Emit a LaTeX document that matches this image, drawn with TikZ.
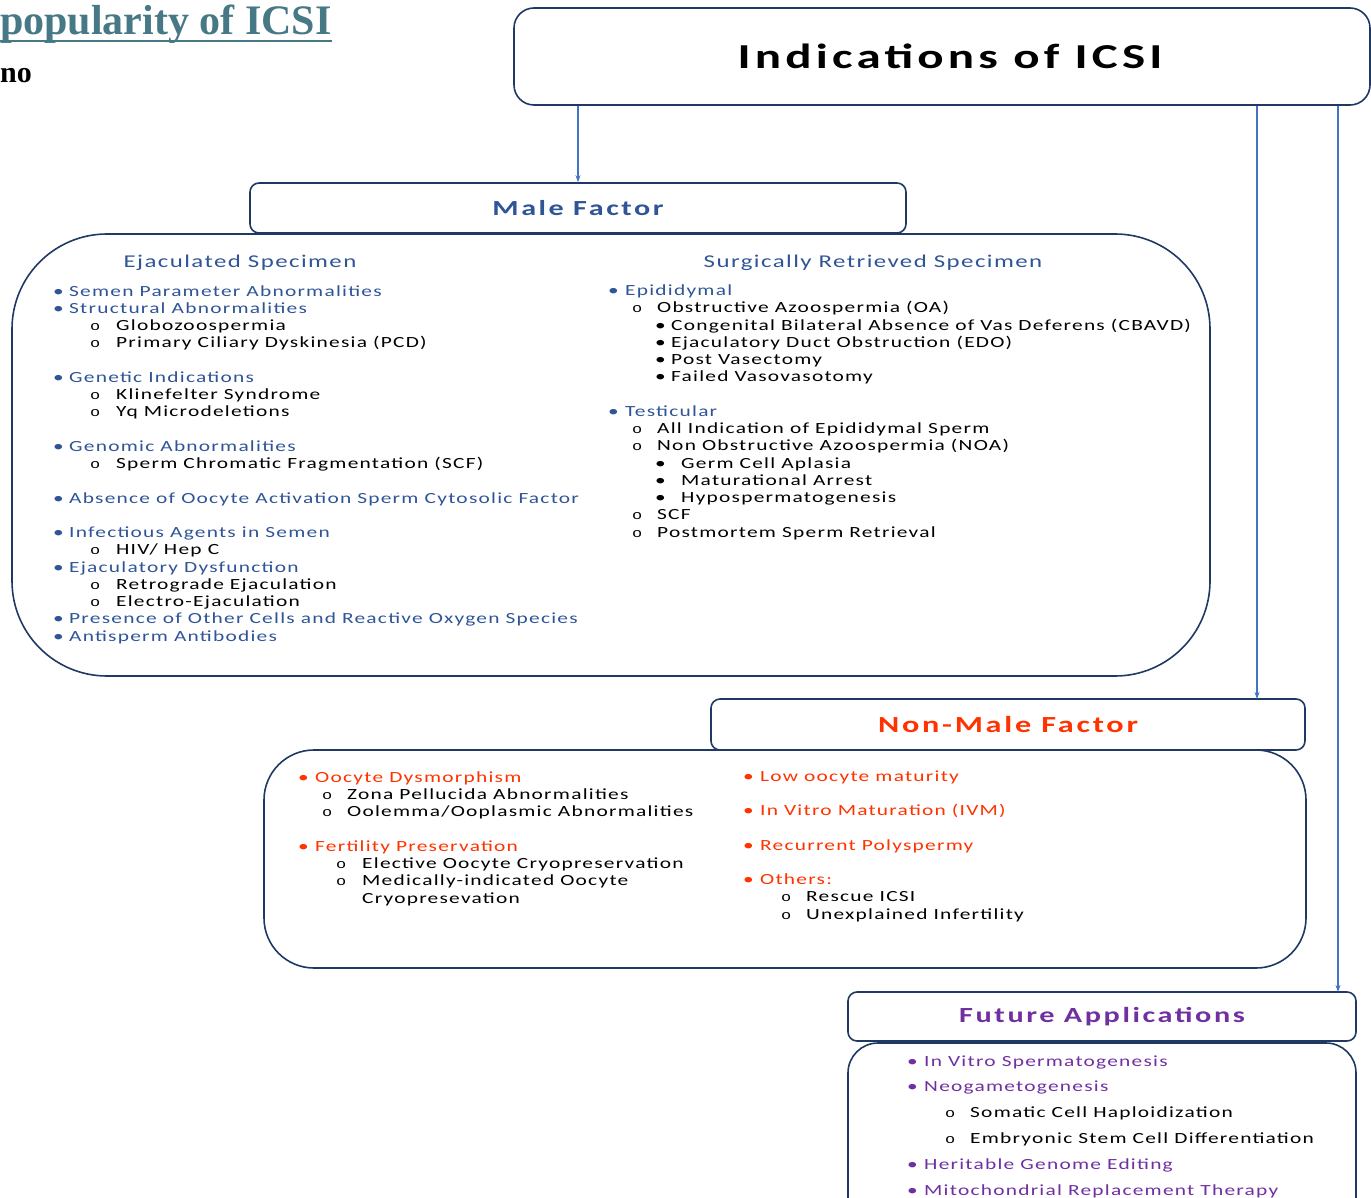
\documentclass[tikz,border=0pt]{standalone}
\usepackage{fontspec}
\usepackage{xcolor}
\definecolor{icsiNavy}{HTML}{203864}
\definecolor{icsiBlue}{HTML}{2F5597}
\definecolor{icsiArrow}{HTML}{4472C4}
\definecolor{icsiRed}{HTML}{FF3300}
\definecolor{icsiPurple}{HTML}{7030A0}
\definecolor{icsiTeal}{HTML}{467886}
\newfontfamily\slidefont{Carlito}[FakeStretch=1.38, LetterSpace=8]
\newfontfamily\headfont{Carlito}[FakeStretch=1.4, LetterSpace=12]
\newfontfamily\ringfont{Liberation Mono}[FakeStretch=1.3]
\newfontfamily\titlefont{Liberation Serif}
\usetikzlibrary{arrows.meta, positioning}

% list lines: bullet, ring, small dot
\newcommand{\lvla}[2][17]{\makebox[#1pt][l]{•}#2}
\newcommand{\lvlb}[3]{{\color{black}\hspace*{#1pt}\makebox[#2pt][l]{\ringfont\fontsize{13}{13}\selectfont o}#3}}
\newcommand{\lvlc}[3]{{\color{black}\hspace*{#1pt}\makebox[#2pt][l]{•}#3}}

\begin{document}
\begin{tikzpicture}[
		x=1pt, y=-1pt,
		headbox/.style={
			draw=icsiNavy,
			fill=white,
			line width=1.6pt,
			rounded corners=9pt,
			inner sep=0pt,
			font=\headfont\bfseries
		},
		bodybox/.style={
			draw=icsiNavy,
			line width=1.6pt,
			inner sep=0pt
		},
		listtext/.style={
			anchor=base west,
			align=left,
			inner sep=0pt,
			font={\slidefont\fontsize{15.5}{17.25}\selectfont}
		},
		subhead/.style={
			inner sep=0pt,
			text=icsiBlue,
			font={\slidefont\fontsize{18}{20}\selectfont}
		},
		arrow/.style={-{Stealth[length=7pt,width=5pt]}, line width=1.5pt, draw=icsiArrow}
		]
		
		\useasboundingbox (0,0) rectangle (1371,1198);
		\clip (0,0) rectangle (1371,1198);
		
		% slide title (cut off at the left)
		\node[anchor=base west, inner sep=0pt, text=icsiTeal, font={\titlefont\bfseries\fontsize{42}{42}\selectfont}] (title) at (0,35) {popularity of ICSI};
		\draw[icsiTeal, line width=2pt] ([yshift=-6pt]title.base west) -- ([yshift=-6pt]title.base east);
		\node[anchor=base west, inner sep=0pt, font={\titlefont\bfseries\fontsize{30}{30}\selectfont}] (author) at (0,83) {no};
		
		% main boxes
		\node[headbox, rounded corners=20pt, minimum width=856, minimum height=97, font={\headfont\bfseries\fontsize{35}{35}\selectfont}] (ind) at (942,56.5) {\hspace*{16pt}Indications of ICSI};
		
		\node[bodybox, rounded corners=95pt, minimum width=1198, minimum height=442] (malebody) at (611,455) {};
		\node[headbox, minimum width=656, minimum height=50, text=icsiBlue, font={\headfont\bfseries\fontsize{21.5}{21.5}\selectfont}] (male) at (578,208) {Male Factor};
		
		\node[bodybox, rounded corners=50pt, minimum width=1042, minimum height=218] (nonmalebody) at (785,859) {};
		\node[headbox, minimum width=594, minimum height=51, text=icsiRed, font={\headfont\bfseries\fontsize{23}{23}\selectfont}] (nonmale) at (1008,724.5) {Non-Male Factor};
		
		\node[bodybox, rounded corners=30pt, minimum width=508, minimum height=207] (futurebody) at (1102,1146.5) {};
		\node[headbox, minimum width=508, minimum height=49, text=icsiPurple, font={\headfont\bfseries\fontsize{21.6}{21.6}\selectfont}] (future) at (1102,1016.5) {Future Applications};
		
		% connectors
		\coordinate (nmin) at (1257,699);
		\coordinate (fuin) at (1338,992);
		\draw[arrow] (ind.south -| male.north) -- (male.north);
		\draw[arrow] (ind.south -| nmin) -- (nmin);
		\draw[arrow] (ind.south -| fuin) -- (fuin);
		
		% male factor (lists are placed by the baseline of their last line)
		\node[subhead] (ejac) at (240,263) {Ejaculated Specimen};
		\node[subhead] (surg) at (873,263) {Surgically Retrieved Specimen};
		
		\node[listtext, text=icsiBlue] (ejaclist) at (53,641) {
			\lvla[16]{Semen Parameter Abnormalities}\\
			\lvla[16]{Structural Abnormalities}\\
			\lvlb{37}{26}{Globozoospermia}\\
			\lvlb{37}{26}{Primary Ciliary Dyskinesia (PCD)}\\[17.25pt]
			\lvla[16]{Genetic Indications}\\
			\lvlb{37}{26}{Klinefelter Syndrome}\\
			\lvlb{37}{26}{Yq Microdeletions}\\[17.25pt]
			\lvla[16]{Genomic Abnormalities}\\
			\lvlb{37}{26}{Sperm Chromatic Fragmentation (SCF)}\\[17.25pt]
			\lvla[16]{Absence of Oocyte Activation Sperm Cytosolic Factor}\\[17.25pt]
			\lvla[16]{Infectious Agents in Semen}\\
			\lvlb{37}{26}{HIV/ Hep C}\\
			\lvla[16]{Ejaculatory Dysfunction}\\
			\lvlb{37}{26}{Retrograde Ejaculation}\\
			\lvlb{37}{26}{Electro-Ejaculation}\\
			\lvla[16]{Presence of Other Cells and Reactive Oxygen Species}\\
			\lvla[16]{Antisperm Antibodies}};
		
		\node[listtext, text=icsiBlue] (surglist) at (608,537) {
			\lvla{Epididymal}\\
			\lvlb{24}{25}{Obstructive Azoospermia (OA)}\\
			\lvlc{47}{16}{Congenital Bilateral Absence of Vas Deferens (CBAVD)}\\
			\lvlc{47}{16}{Ejaculatory Duct Obstruction (EDO)}\\
			\lvlc{47}{16}{Post Vasectomy}\\
			\lvlc{47}{16}{Failed Vasovasotomy}\\[17.25pt]
			\lvla{Testicular}\\
			\lvlb{24}{25}{All Indication of Epididymal Sperm}\\
			\lvlb{24}{25}{Non Obstructive Azoospermia (NOA)}\\
			\lvlc{47}{26}{Germ Cell Aplasia}\\
			\lvlc{47}{26}{Maturational Arrest}\\
			\lvlc{47}{26}{Hypospermatogenesis}\\
			\lvlb{24}{25}{SCF}\\
			\lvlb{24}{25}{Postmortem Sperm Retrieval}};
		
		% non-male factor
		\node[listtext, text=icsiRed] (oocytelist) at (298,903) {
			\lvla{Oocyte Dysmorphism}\\
			\lvlb{24}{25}{Zona Pellucida Abnormalities}\\
			\lvlb{24}{25}{Oolemma/Ooplasmic Abnormalities}\\[17.25pt]
			\lvla{Fertility Preservation}\\
			\lvlb{38}{26}{Elective Oocyte Cryopreservation}\\
			\lvlb{38}{26}{Medically-indicated Oocyte}\\
			{\color{black}\hspace*{64pt}Cryopresevation}};
		
		\node[listtext, text=icsiRed] (otherlist) at (743,919) {
			\lvla{Low oocyte maturity}\\[17.25pt]
			\lvla{In Vitro Maturation (IVM)}\\[17.25pt]
			\lvla{Recurrent Polyspermy}\\[17.25pt]
			\lvla{Others:}\\
			\lvlb{38}{25}{Rescue ICSI}\\
			\lvlb{38}{25}{Unexplained Infertility}};
		
		% future applications
		\node[listtext, text=icsiPurple, font={\slidefont\fontsize{15.5}{25.8}\selectfont}] (futurelist) at (907,1195) {
			\lvla{In Vitro Spermatogenesis}\\
			\lvla{Neogametogenesis}\\
			\lvlb{38}{25}{Somatic Cell Haploidization}\\
			\lvlb{38}{25}{Embryonic Stem Cell Differentiation}\\
			\lvla{Heritable Genome Editing}\\
			\lvla{Mitochondrial Replacement Therapy}};
		
	\end{tikzpicture}
\end{document}
